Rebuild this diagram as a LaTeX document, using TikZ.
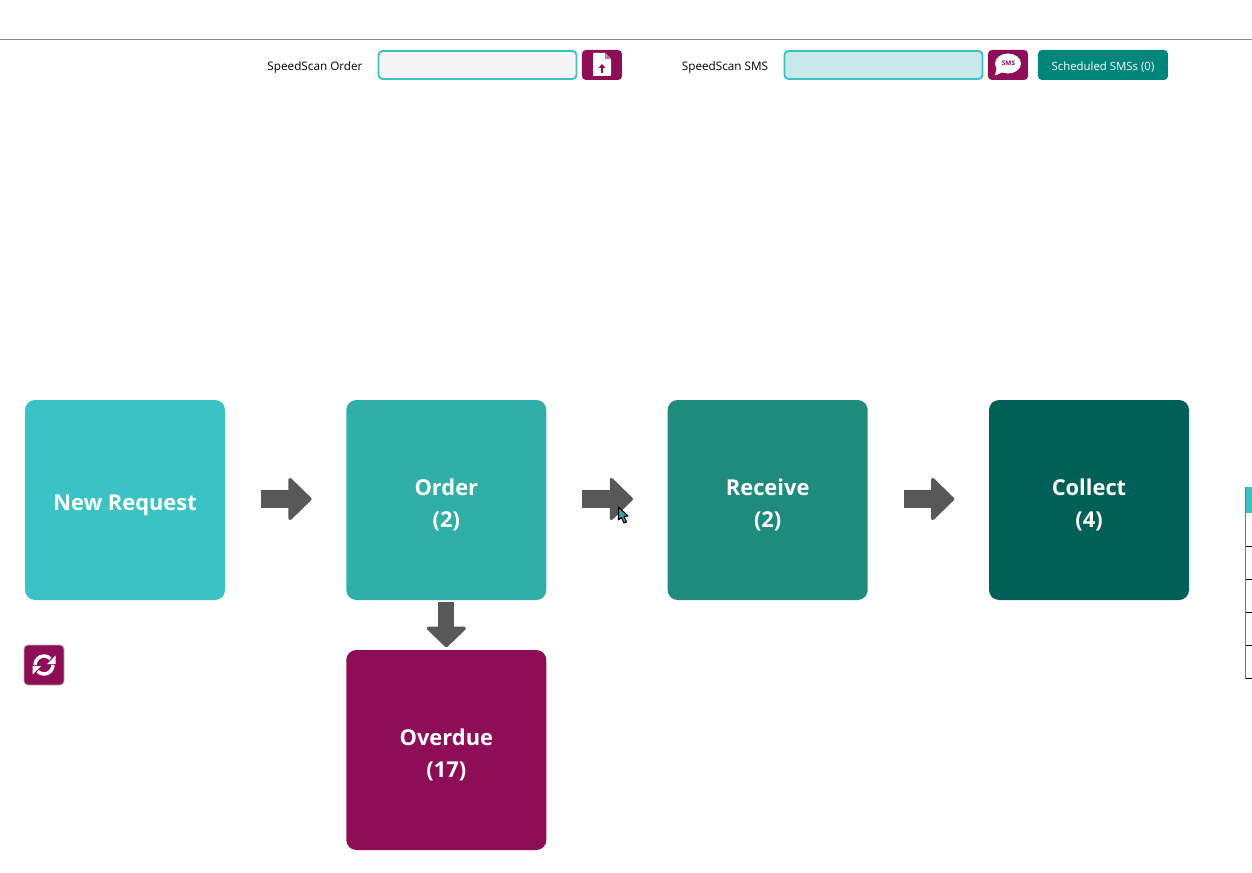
\documentclass[tikz,border=0pt]{standalone}
\usepackage{fontspec}
\setmainfont{Open Sans}
\usetikzlibrary{positioning}
\usetikzlibrary{arrows.meta}
\definecolor{reqcol}{HTML}{3BC2C4}
\definecolor{ordcol}{HTML}{30AFA9}
\definecolor{reccol}{HTML}{1E8B7C}
\definecolor{colcol}{HTML}{005F57}
\definecolor{ovdcol}{HTML}{8D0E57}
\definecolor{btncol}{HTML}{00857A}
\definecolor{arrcol}{HTML}{585858}
\definecolor{smscol}{HTML}{C8E8EA}
\newcommand{\topgap}{\rule{0pt}{19.8pt}}
\begin{document}
\begin{tikzpicture}[x=0.75pt,y=-0.75pt,
            stage/.style={rectangle, rounded corners=7.5pt, minimum size=150pt, inner sep=0pt, outer sep=0pt,
            align=center, text=white, font=\fontsize{16.4}{24}\selectfont\bfseries, node distance=91pt},
            flow/.style={line width=13.5pt, color=arrcol, -{Triangle[length=18pt,width=34.5pt,round,line width=2.5pt]},
            shorten <=27pt, shorten >=26pt},
            caption/.style={font=\fontsize{8.8}{11}\selectfont, inner sep=0pt, text=black},
            field/.style={draw=reqcol, line width=1.4pt, rounded corners=3pt, minimum width=148.5pt,
            minimum height=21pt, inner sep=0pt, outer sep=0pt},
            iconbtn/.style={fill=ovdcol, rounded corners=3pt, minimum width=30pt, minimum height=22.5pt, inner sep=0pt, outer sep=0pt}]
        \useasboundingbox (0,0) rectangle (1252,873);
        \draw[color=black!45, line width=0.75pt] (0,39.5) -- (1252,39.5);

        % top row
        \node[caption] (ordlabel) at (315,67) {SpeedScan Order};
        \node[field, fill=black!4] (ordfield) at (477.5,65) {};
        \node[iconbtn, right=4.1pt of ordfield] (ordbtn) {};
        \node[caption] (smslabel) at (725,67) {SpeedScan SMS};
        \node[field, fill=smscol] (smsfield) at (883.5,65) {};
        \node[iconbtn, right=4.1pt of smsfield] (smsbtn) {};
        \node[iconbtn, fill=btncol, minimum width=97.5pt, right=7.5pt of smsbtn, text=white,
            font=\fontsize{8.55}{11}\selectfont, execute at begin node=\rule{0pt}{9.5pt}] (sched) {Scheduled SMSs (0)};

        % icons on the buttons
        \fill[white, rounded corners=0.6pt] (593,53) -- (605,53) -- (611,59) -- (611,76) -- (593,76) -- cycle;
        \fill[ovdcol!55] (605,53) -- (611,59) -- (605,59) -- cycle;
        \draw[ovdcol, line width=1.1pt, -{Triangle[length=3pt,width=5pt]}] (602,73) -- (602,64);
        \fill[white] (1008,63.5) ellipse [x radius=13, y radius=10];
        \fill[white] (997,66) -- (1003,72) -- (995,75.5) -- cycle;
        \node[text=ovdcol, inner sep=0pt, font=\fontsize{4.8}{5}\selectfont\bfseries] (smstext) at (1008.5,63.5) {SMS};

        % stages
        \node[stage, fill=reqcol] (request) at (125,500) {\rule{0pt}{19pt}New Request};
        \node[stage, fill=ordcol] (order) [right=of request] {\topgap Order\\(2)};
        \node[stage, fill=reccol] (receive) [right=of order] {\topgap Receive\\(2)};
        \node[stage, fill=colcol] (collect) [right=of receive] {\topgap Collect\\(4)};
        \node[stage, fill=ovdcol] (overdue) [below=37.5pt of order] {\topgap Overdue\\(17)};

        \draw[flow] ([yshift=.75pt]request.east) -- ([yshift=.75pt]order.west);
        \draw[flow] ([yshift=.75pt]order.east) -- ([yshift=.75pt]receive.west);
        \draw[flow] ([yshift=.75pt]receive.east) -- ([yshift=.75pt]collect.west);
        \draw[flow, line width=12pt, -{Triangle[length=16pt,width=32.5pt,round,line width=2.5pt]},
            shorten <=1.5pt, shorten >=2pt] (order) -- (overdue);

        % refresh button
        \node[fill=ovdcol, draw=black!30, line width=.5pt, rounded corners=3pt, minimum size=30pt, inner sep=0pt] (refresh) at (44,665) {};
        \draw[white, line width=2.6pt] (35,665) arc [start angle=180, end angle=315, radius=9];
        \draw[white, line width=2.6pt] (53,665) arc [start angle=0, end angle=135, radius=9];
        \fill[white] (55.5,655.5) -- (55.5,664) -- (47,664) -- cycle;
        \fill[white] (32.5,674.5) -- (32.5,666) -- (41,666) -- cycle;

        % table stub at the right edge
        \fill[reqcol] (1245,487) rectangle (1252,513);
        \foreach \rowy in {546,579,612,645,678}
            \draw[black, line width=.75pt] (1245,\rowy) -- (1252,\rowy);
        \draw[color=blue!25!black!55, line width=.75pt] (1245.5,487) -- (1245.5,679);

        % mouse pointer
        \draw[black, fill=reqcol!85!black, line width=.8pt, line join=round] (618.5,507) -- (618.5,520) -- (621.5,517.5) -- (624,523) -- (626.5,522) -- (624,516.5) -- (628,516) -- cycle;
    \end{tikzpicture}
\end{document}
